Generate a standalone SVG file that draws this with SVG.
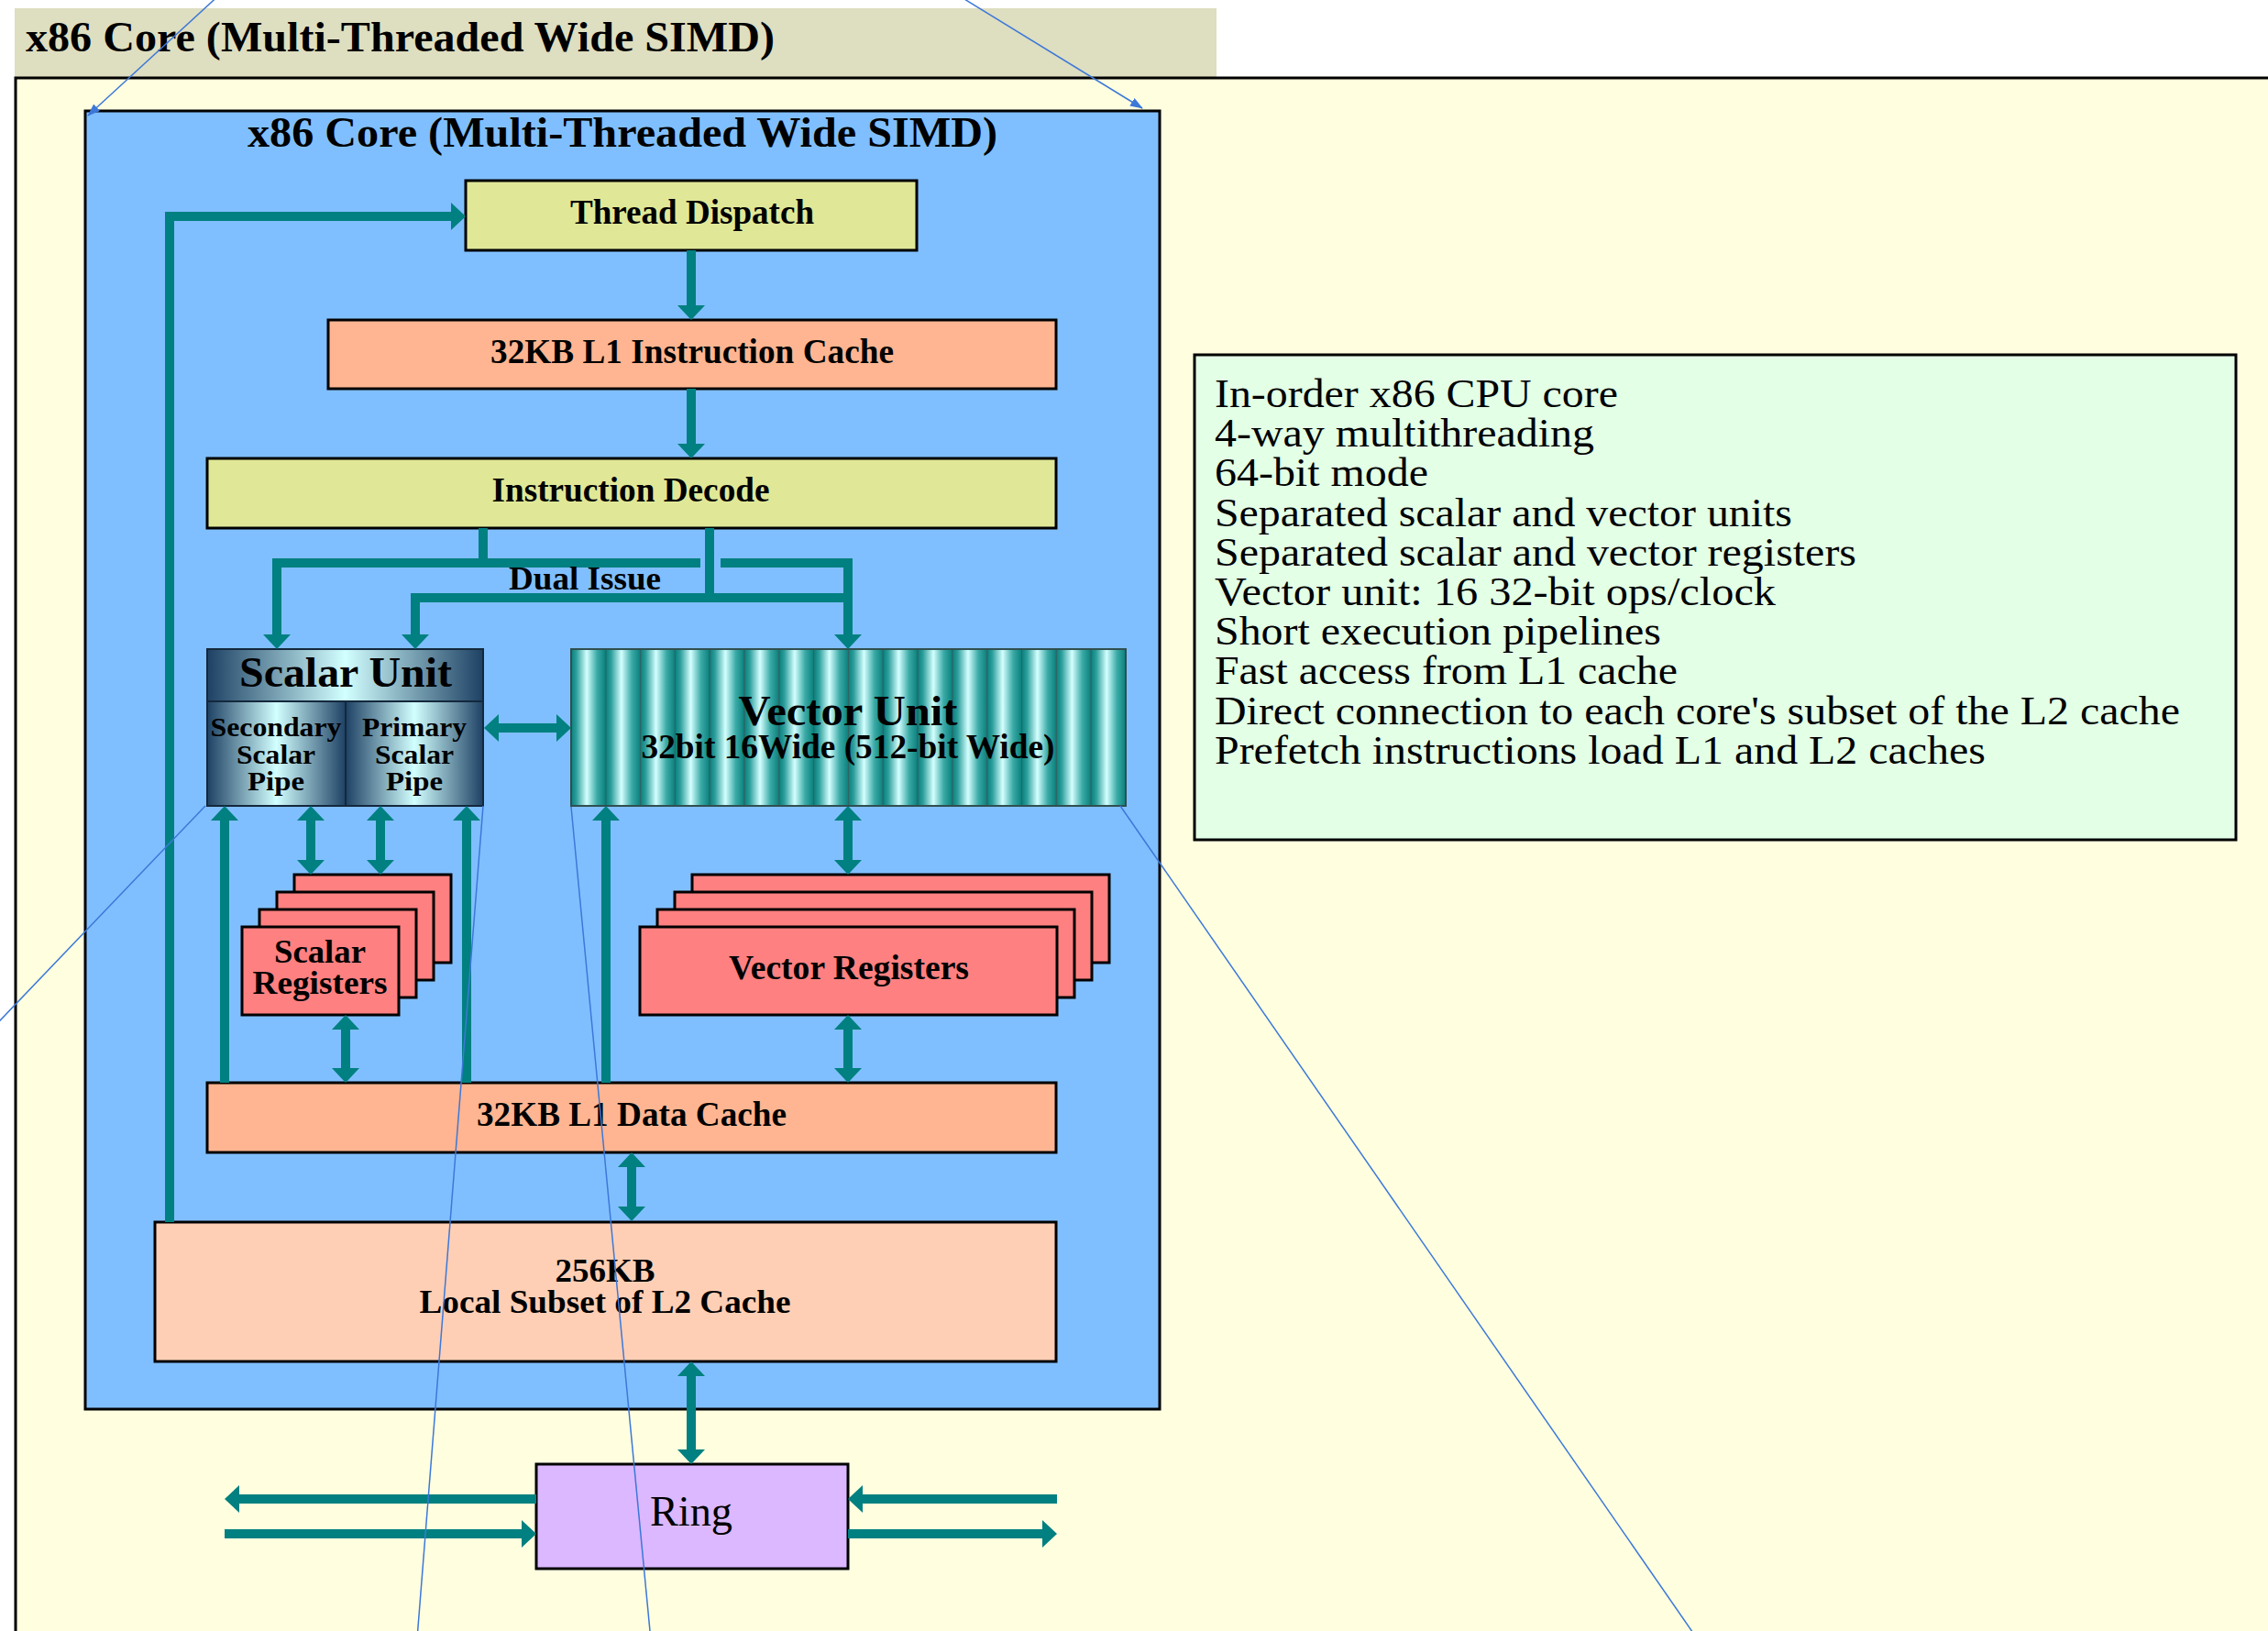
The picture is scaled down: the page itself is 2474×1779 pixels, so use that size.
<svg xmlns="http://www.w3.org/2000/svg" width="2474" height="1779" viewBox="0 0 2474 1779">
<style>
.lbl{font-family:"Liberation Serif","Times New Roman",serif;font-weight:bold;fill:#000;text-anchor:middle}
.reg{font-family:"Liberation Serif","Times New Roman",serif;fill:#000}
.box{stroke:#000;stroke-width:3}
.conn{fill:none;stroke:#008080;stroke-width:10;stroke-linejoin:miter}
.lead{fill:none;stroke:#3C78D8;stroke-width:1.5}
.stripe{fill:url(#vgrad);stroke:#2F6464;stroke-width:1}
</style>
<defs>
<marker id="ah" viewBox="0 0 16 30" markerWidth="16" markerHeight="30" markerUnits="userSpaceOnUse" refX="1" refY="15" orient="auto-start-reverse"><path d="M0,0 L16,15 L0,30 Z" fill="#008080"/></marker>
<marker id="la" viewBox="0 0 14 10" markerWidth="14" markerHeight="10" markerUnits="userSpaceOnUse" refX="13" refY="5" orient="auto"><path d="M0,0 L14,5 L0,10 Z" fill="#3C78D8"/></marker>
<linearGradient id="sgrad" x1="0" y1="0" x2="1" y2="0"><stop offset="0" stop-color="#1E4164"/><stop offset="0.5" stop-color="#D2FFFF"/><stop offset="1" stop-color="#1E4164"/></linearGradient>
<linearGradient id="vgrad" x1="0" y1="0" x2="1" y2="0"><stop offset="0" stop-color="#0A7F7C"/><stop offset="0.15" stop-color="#2C9E9B"/><stop offset="0.45" stop-color="#D4FFFF"/><stop offset="0.75" stop-color="#3AAAA6"/><stop offset="1" stop-color="#0A7F7C"/></linearGradient>
</defs>
<rect x="0" y="0" width="2474" height="1779" fill="#FFFFFF"/>
<g id="title-band">
<rect x="16" y="9" width="1311" height="75" fill="#DEDEC0"/>
<text class="lbl" x="28" y="56" font-size="46" style="text-anchor:start" textLength="817" lengthAdjust="spacingAndGlyphs">x86 Core (Multi-Threaded Wide SIMD)</text>
</g>
<g id="panel">
<rect x="17" y="85" width="2500" height="1800" fill="#FFFFE0" class="box"/>
</g>
<g id="core">
<rect x="93" y="121" width="1172" height="1416" fill="#80BFFF" class="box"/>
<text class="lbl" x="679" y="160" font-size="46" textLength="818" lengthAdjust="spacingAndGlyphs">x86 Core (Multi-Threaded Wide SIMD)</text>
</g>
<g id="thread-dispatch">
<rect x="508" y="197" width="492" height="76" fill="#E0E897" class="box"/>
<text class="lbl" x="755" y="244" font-size="37" textLength="266" lengthAdjust="spacingAndGlyphs">Thread Dispatch</text>
</g>
<g id="l1-icache">
<rect x="358" y="349" width="794" height="75" fill="#FFB591" class="box"/>
<text class="lbl" x="755" y="396" font-size="37" textLength="440" lengthAdjust="spacingAndGlyphs">32KB L1 Instruction Cache</text>
</g>
<g id="decode">
<rect x="226" y="500" width="926" height="76" fill="#E0E897" class="box"/>
<text class="lbl" x="688" y="547" font-size="37" textLength="303" lengthAdjust="spacingAndGlyphs">Instruction Decode</text>
</g>
<g id="scalar-unit">
<rect x="226" y="708" width="301" height="57" fill="url(#sgrad)"/>
<rect x="226" y="765" width="151" height="114" fill="url(#sgrad)"/>
<rect x="377" y="765" width="150" height="114" fill="url(#sgrad)"/>
<path d="M226,765 H527 M377,765 V879" stroke="#14283C" stroke-width="2"/>
<rect x="226" y="708" width="301" height="171" fill="none" stroke="#14283C" stroke-width="2"/>
<text class="lbl" x="377" y="749" font-size="47" textLength="232" lengthAdjust="spacingAndGlyphs">Scalar Unit</text>
<text class="lbl" x="301" y="803" font-size="29" textLength="143" lengthAdjust="spacingAndGlyphs">Secondary</text>
<text class="lbl" x="301" y="833" font-size="29" textLength="86" lengthAdjust="spacingAndGlyphs">Scalar</text>
<text class="lbl" x="301" y="862" font-size="29" textLength="62" lengthAdjust="spacingAndGlyphs">Pipe</text>
<text class="lbl" x="452" y="803" font-size="29" textLength="114" lengthAdjust="spacingAndGlyphs">Primary</text>
<text class="lbl" x="452" y="833" font-size="29" textLength="86" lengthAdjust="spacingAndGlyphs">Scalar</text>
<text class="lbl" x="452" y="862" font-size="29" textLength="62" lengthAdjust="spacingAndGlyphs">Pipe</text>
</g>
<g id="vector-unit">
<rect class="stripe" x="623" y="708" width="37.81" height="171"/>
<rect class="stripe" x="660.81" y="708" width="37.81" height="171"/>
<rect class="stripe" x="698.62" y="708" width="37.81" height="171"/>
<rect class="stripe" x="736.44" y="708" width="37.81" height="171"/>
<rect class="stripe" x="774.25" y="708" width="37.81" height="171"/>
<rect class="stripe" x="812.06" y="708" width="37.81" height="171"/>
<rect class="stripe" x="849.87" y="708" width="37.81" height="171"/>
<rect class="stripe" x="887.69" y="708" width="37.81" height="171"/>
<rect class="stripe" x="925.5" y="708" width="37.81" height="171"/>
<rect class="stripe" x="963.31" y="708" width="37.81" height="171"/>
<rect class="stripe" x="1001.12" y="708" width="37.81" height="171"/>
<rect class="stripe" x="1038.94" y="708" width="37.81" height="171"/>
<rect class="stripe" x="1076.75" y="708" width="37.81" height="171"/>
<rect class="stripe" x="1114.56" y="708" width="37.81" height="171"/>
<rect class="stripe" x="1152.37" y="708" width="37.81" height="171"/>
<rect class="stripe" x="1190.19" y="708" width="37.81" height="171"/>
<rect x="623" y="708" width="605" height="171" fill="none" stroke="#2F4F4F" stroke-width="2"/>
<text class="lbl" x="925" y="791" font-size="47" textLength="239" lengthAdjust="spacingAndGlyphs">Vector Unit</text>
<text class="lbl" x="925" y="827" font-size="37" textLength="451" lengthAdjust="spacingAndGlyphs">32bit 16Wide (512-bit Wide)</text>
</g>
<g id="scalar-registers">
<rect x="321" y="954" width="171" height="96" fill="#FF8080" class="box"/>
<rect x="302" y="973" width="171" height="96" fill="#FF8080" class="box"/>
<rect x="283" y="992" width="171" height="96" fill="#FF8080" class="box"/>
<rect x="264" y="1011" width="171" height="96" fill="#FF8080" class="box"/>
<text class="lbl" x="349" y="1050" font-size="36" textLength="100" lengthAdjust="spacingAndGlyphs">Scalar</text>
<text class="lbl" x="349" y="1084" font-size="36" textLength="147" lengthAdjust="spacingAndGlyphs">Registers</text>
</g>
<g id="vector-registers">
<rect x="755" y="954" width="455" height="96" fill="#FF8080" class="box"/>
<rect x="736" y="973" width="455" height="96" fill="#FF8080" class="box"/>
<rect x="717" y="992" width="455" height="96" fill="#FF8080" class="box"/>
<rect x="698" y="1011" width="455" height="96" fill="#FF8080" class="box"/>
<text class="lbl" x="926" y="1068" font-size="37" textLength="262" lengthAdjust="spacingAndGlyphs">Vector Registers</text>
</g>
<g id="l1-dcache">
<rect x="226" y="1181" width="926" height="76" fill="#FFB591" class="box"/>
<text class="lbl" x="689" y="1228" font-size="37" textLength="338" lengthAdjust="spacingAndGlyphs">32KB L1 Data Cache</text>
</g>
<g id="l2-cache">
<rect x="169" y="1333" width="983" height="152" fill="#FFCFB5" class="box"/>
<text class="lbl" x="660" y="1398" font-size="36" textLength="109" lengthAdjust="spacingAndGlyphs">256KB</text>
<text class="lbl" x="660" y="1432" font-size="36" textLength="405" lengthAdjust="spacingAndGlyphs">Local Subset of L2 Cache</text>
</g>
<g id="ring">
<rect x="585" y="1597" width="340" height="114" fill="#DBB8FF" class="box"/>
<text class="reg" x="754" y="1664" font-size="47" text-anchor="middle" textLength="90" lengthAdjust="spacingAndGlyphs">Ring</text>
</g>
<g id="notes">
<rect x="1303" y="387" width="1136" height="529" fill="#E3FFE6" class="box"/>
<text class="reg" font-size="44" x="1325" y="444" textLength="440" lengthAdjust="spacingAndGlyphs">In-order x86 CPU core</text>
<text class="reg" font-size="44" x="1325" y="487" textLength="414" lengthAdjust="spacingAndGlyphs">4-way multithreading</text>
<text class="reg" font-size="44" x="1325" y="530" textLength="233" lengthAdjust="spacingAndGlyphs">64-bit mode</text>
<text class="reg" font-size="44" x="1325" y="574" textLength="630" lengthAdjust="spacingAndGlyphs">Separated scalar and vector units</text>
<text class="reg" font-size="44" x="1325" y="617" textLength="700" lengthAdjust="spacingAndGlyphs">Separated scalar and vector registers</text>
<text class="reg" font-size="44" x="1325" y="660" textLength="612" lengthAdjust="spacingAndGlyphs">Vector unit: 16 32-bit ops/clock</text>
<text class="reg" font-size="44" x="1325" y="703" textLength="487" lengthAdjust="spacingAndGlyphs">Short execution pipelines</text>
<text class="reg" font-size="44" x="1325" y="746" textLength="505" lengthAdjust="spacingAndGlyphs">Fast access from L1 cache</text>
<text class="reg" font-size="44" x="1325" y="790" textLength="1053" lengthAdjust="spacingAndGlyphs">Direct connection to each core's subset of the L2 cache</text>
<text class="reg" font-size="44" x="1325" y="833" textLength="841" lengthAdjust="spacingAndGlyphs">Prefetch instructions load L1 and L2 caches</text>
</g>
<g id="connectors">
<path class="conn" d="M754,273 V334" marker-end="url(#ah)"/>
<path class="conn" d="M754,424 V485" marker-end="url(#ah)"/>
<path class="conn" d="M185,1333 V236 H493" marker-end="url(#ah)"/>
<path class="conn" d="M527,576 V614 H302 V693" marker-end="url(#ah)"/>
<path class="conn" d="M522,614 H764"/>
<path class="conn" d="M786,614 H925 V693" marker-end="url(#ah)"/>
<path class="conn" d="M774,576 V652 H453 V693" marker-end="url(#ah)"/>
<path class="conn" d="M774,652 H925"/>
<text class="lbl" x="638" y="643" font-size="35" textLength="166" lengthAdjust="spacingAndGlyphs">Dual Issue</text>
<path class="conn" d="M543,794 H608" marker-start="url(#ah)" marker-end="url(#ah)"/>
<path class="conn" d="M245,1181 V894" marker-end="url(#ah)"/>
<path class="conn" d="M509,1181 V894" marker-end="url(#ah)"/>
<path class="conn" d="M661,1181 V894" marker-end="url(#ah)"/>
<path class="conn" d="M339,894 V939" marker-start="url(#ah)" marker-end="url(#ah)"/>
<path class="conn" d="M415,894 V939" marker-start="url(#ah)" marker-end="url(#ah)"/>
<path class="conn" d="M925,894 V939" marker-start="url(#ah)" marker-end="url(#ah)"/>
<path class="conn" d="M377,1122 V1166" marker-start="url(#ah)" marker-end="url(#ah)"/>
<path class="conn" d="M925,1122 V1166" marker-start="url(#ah)" marker-end="url(#ah)"/>
<path class="conn" d="M689,1272 V1317" marker-start="url(#ah)" marker-end="url(#ah)"/>
<path class="conn" d="M754,1500 V1582" marker-start="url(#ah)" marker-end="url(#ah)"/>
<path class="conn" d="M585,1635 H260" marker-end="url(#ah)"/>
<path class="conn" d="M245,1673 H570" marker-end="url(#ah)"/>
<path class="conn" d="M1153,1635 H940" marker-end="url(#ah)"/>
<path class="conn" d="M925,1673 H1138" marker-end="url(#ah)"/>
</g>
<g id="leaders">
<path class="lead" d="M255,-20 L96,126" marker-end="url(#la)"/>
<path class="lead" d="M1021,-20 L1246,118" marker-end="url(#la)"/>
<path class="lead" d="M224,879 L-20,1134"/>
<path class="lead" d="M527,879 L454,1800"/>
<path class="lead" d="M623,880 L711,1800"/>
<path class="lead" d="M1222,879 L1860,1800"/>
</g>
</svg>
